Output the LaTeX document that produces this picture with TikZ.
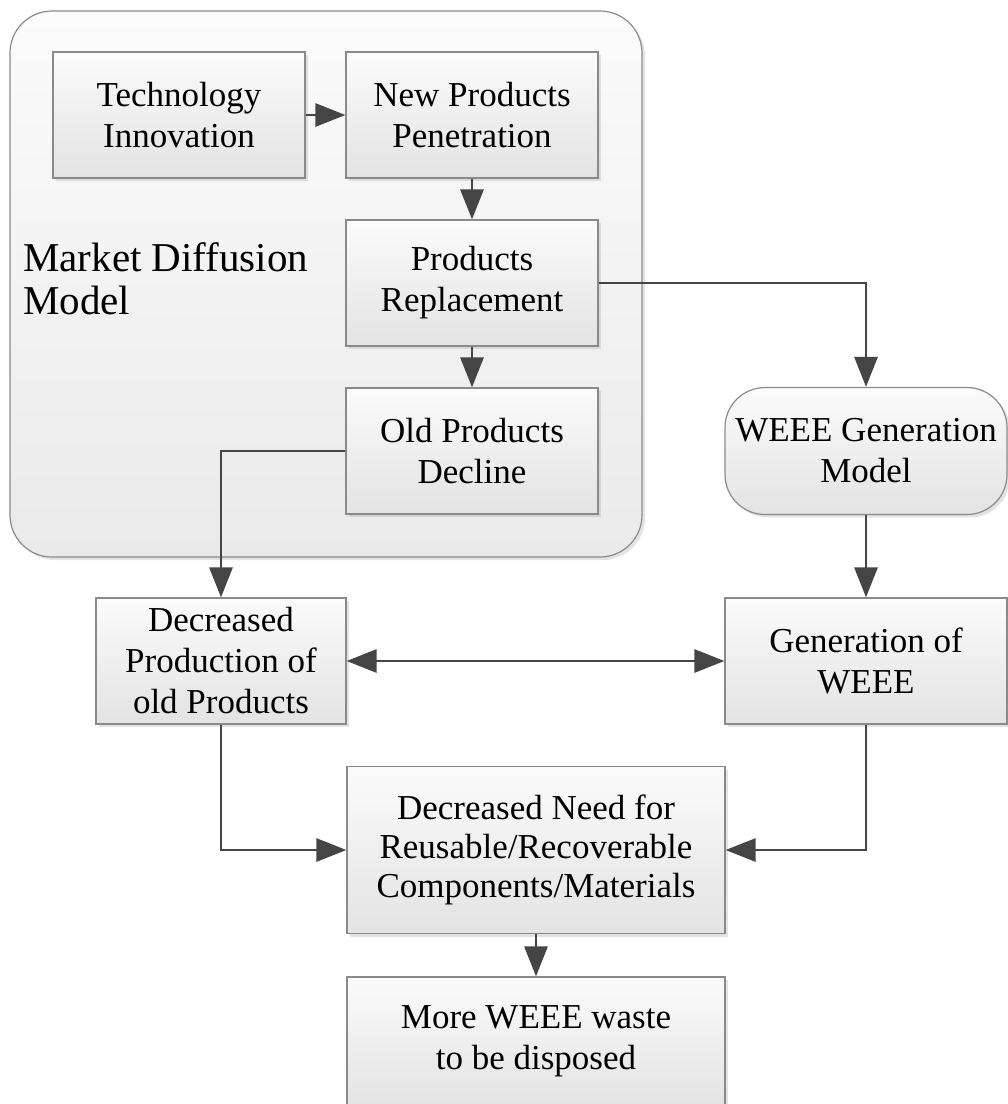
\documentclass[tikz,border=0pt]{standalone}
\usepackage{fontspec}
\setmainfont{Liberation Serif}
\usetikzlibrary{arrows.meta,positioning,shadows}
\definecolor{linegray}{HTML}{454545}
\definecolor{boxedge}{HTML}{8A8A8A}
\definecolor{boxtop}{HTML}{FBFBFB}
\definecolor{boxbottom}{HTML}{E3E3E3}
\definecolor{panelbottom}{HTML}{EAEAEA}

\begin{document}
\begin{tikzpicture}[x=1pt,y=-1pt,
  stage/.style={draw=boxedge, line width=1.2pt, top color=boxtop, bottom color=boxbottom,
    align=center, font=\fontsize{35}{41}\selectfont, inner sep=0pt,
    minimum width=252pt, minimum height=126pt,
    drop shadow={opacity=0.22, shadow xshift=3pt, shadow yshift=-3pt}},
  flow/.style={draw=linegray, line width=2.8pt, -{Triangle[length=30pt,width=23pt]}},
  both/.style={draw=linegray, line width=2.8pt,
    {Triangle[length=30pt,width=23pt]}-{Triangle[length=30pt,width=23pt]}}]
  \useasboundingbox (0,0) rectangle (1008,1104);

  % Market diffusion model panel
  \draw[draw=boxedge, line width=1.2pt, top color=boxtop, bottom color=panelbottom,
    rounded corners=42pt, drop shadow={opacity=0.22, shadow xshift=3pt, shadow yshift=-3pt}]
    (10,11) rectangle (642,557);
  \node[font=\fontsize{41}{43}\selectfont, align=left, anchor=west, inner sep=0pt]
    (mdm) at (23,279) {Market Diffusion\\Model};

  % Boxes inside the panel
  \node[stage] (tech) at (179,115) {Technology\\Innovation};
  \node[stage] (newprod) at (472,115) {New Products\\Penetration};
  \node[stage] (replace) at (472,283) {Products\\Replacement};
  \node[stage] (decline) at (472,451) {Old Products\\Decline};

  % WEEE side
  \node[stage, rounded corners=40pt, minimum width=282pt, minimum height=127pt]
    (model) at (866,451) {WEEE Generation\\Model};
  \node[stage, minimum width=282pt] (genweee) at (866,661) {Generation of\\WEEE};
  \node[stage, minimum width=250pt] (decprod) at (221,661) {Decreased\\Production of\\old Products};

  % Bottom boxes
  \node[stage, font=\fontsize{35}{39}\selectfont, minimum width=378pt, minimum height=167pt]
    (need) at (536,850) {Decreased Need for\\Reusable/Recoverable\\Components/Materials};
  \node[stage, minimum width=378pt, minimum height=128pt]
    (waste) at (536,1041) {More WEEE waste\\to be disposed};

  % Connectors
  \draw[flow] (tech) -- (newprod);
  \draw[flow] (newprod) -- (replace);
  \draw[flow] (replace) -- (decline);
  \draw[flow] (replace.east) -| (model.north);
  \draw[flow] (model) -- (genweee);
  \draw[flow] (decline.west) -| (decprod.north);
  \draw[both] (decprod) -- (genweee);
  \draw[flow] (decprod.south) |- (need.west);
  \draw[flow] (genweee.south) |- (need.east);
  \draw[flow] (need) -- (waste);
\end{tikzpicture}
\end{document}
